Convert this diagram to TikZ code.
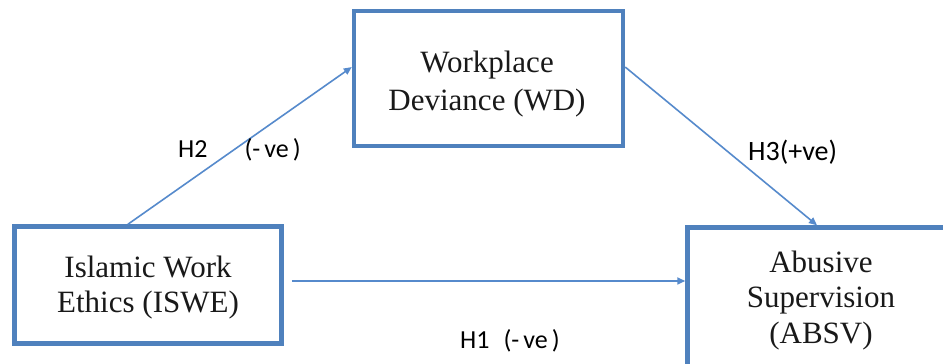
\documentclass[tikz,border=0pt]{standalone}
\usepackage{fontspec}
\setmainfont{Liberation Serif}
\newfontfamily\labelfont{Carlito}
\usetikzlibrary{calc,arrows.meta}
\definecolor{boxblue}{RGB}{79,129,189}
\definecolor{lineblue}{RGB}{86,138,204}
\tikzset{
  varbox/.style={draw=boxblue, line width=4.5pt, fill=white, rectangle, inner sep=0pt},
  boxtxt/.style={font=\fontsize{31}{38}\selectfont, anchor=base, inner sep=0pt, text=black!90},
  hyp/.style={font=\labelfont\fontsize{26}{30}\selectfont, anchor=base west, inner sep=0pt},
  conn/.style={draw=lineblue, line width=1.6pt, -{Triangle[length=8pt,width=7pt]}}
}
\begin{document}
\begin{tikzpicture}[x=1pt,y=-1pt]
\useasboundingbox (0,0) rectangle (943,364);
\clip (0,0) rectangle (943,364);
\fill[white] (0,0) rectangle (943,364);
% boxes
\node[varbox, minimum width=269pt, minimum height=135pt] (wd) at (488.5,78.5) {};
\node[varbox, minimum width=267pt, minimum height=117pt] (iswe) at (148,285) {};
\node[varbox, minimum width=267pt, minimum height=142pt] (absv) at (821,298.5) {};
% box texts
\node[boxtxt] (wd1) at (487,72) {Workplace};
\node[boxtxt] (wd2) at (487,110) {Deviance (WD)};
\node[boxtxt] (is1) at (148,277) {Islamic Work};
\node[boxtxt] (is2) at (148,312) {Ethics (ISWE)};
\node[boxtxt] (ab1) at (821,272) {Abusive};
\node[boxtxt] (ab2) at (821,307) {Supervision};
\node[boxtxt] (ab3) at (821,343) {(ABSV)};
% connector end points on the box borders
\coordinate (h2s) at ($(iswe.north west)!0.426!(iswe.north east)$);
\coordinate (h2e) at ($(wd.north west)!0.418!(wd.south west)$);
\coordinate (h3s) at ($(wd.north east)!0.418!(wd.south east)$);
\coordinate (h3e) at ([xshift=131.75pt]absv.north west);
\coordinate (h1s) at ($(iswe.north east)!0.467!(iswe.south east)$);
% connectors
\draw[conn] (h2s) -- (h2e);
\draw[conn] (h3s) -- (h3e);
\draw[conn, shorten <=8pt] (h1s) -- (h1s -| absv.west);
% hypothesis labels
\node[hyp] (h2) at (178,157) {H2\hspace*{37pt}(-\kern4pt ve\kern4pt)};
\node[hyp, font=\labelfont\fontsize{28}{32}\selectfont] (h3) at (748,160) {H3(+ve)};
\node[hyp] (h1) at (460,348) {H1\hspace*{14pt}(-\kern4pt ve\kern4pt)};
\end{tikzpicture}
\end{document}
